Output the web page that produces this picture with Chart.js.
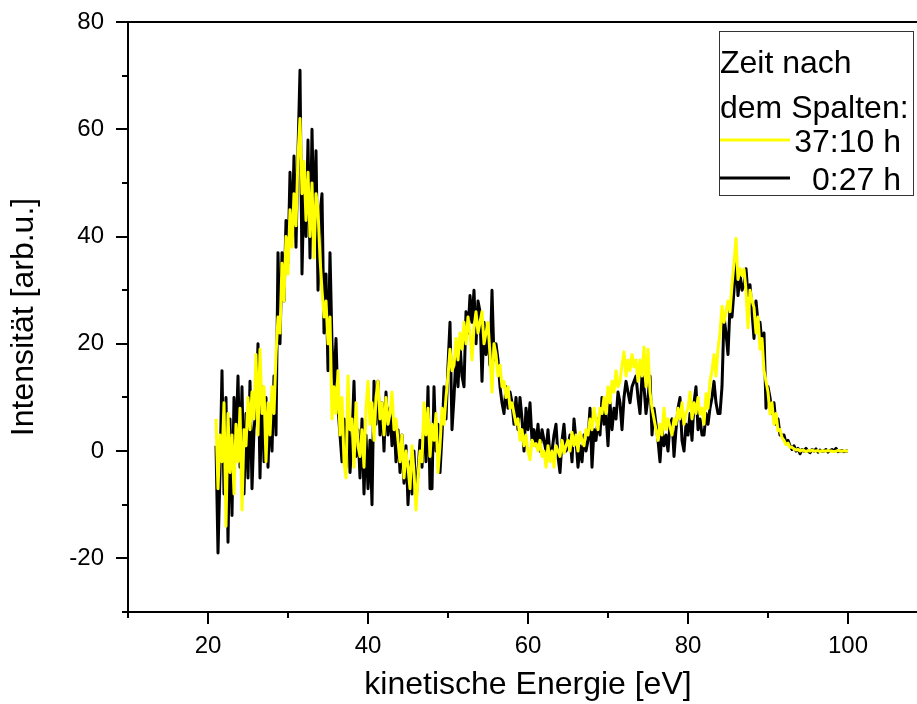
<!DOCTYPE html>
<html>
<head>
<meta charset="utf-8">
<script src="https://cdn.jsdelivr.net/npm/chart.js@4/dist/chart.umd.min.js"></script>
<style>
  html, body { margin: 0; padding: 0; overflow: hidden; background: #fff; }
  #wrap { width: 960px; height: 704px; }
</style>
</head>
<body>
<div id="wrap"><canvas id="spectrum" width="960" height="704"></canvas></div>
<script>
// energy grid of the scan: 21 eV to 100 eV in 0.25 eV steps
const E_START = 21;
const E_STEP = 0.25;

const seriesLabels = ['37:10 h', '0:27 h'];
const seriesColors = ['#ffff00', '#000000'];
const legendTitle = ['Zeit nach', 'dem Spalten:'];

// 37:10 h after cleaving, one row per eV (4 samples each)
const late = [
  6, -7, 3, -2,   9, -14, 7, -4,   3, -8, 5, -2,   8, -11, 4, 1,
  10, 4, 11, 6,   18, 3, 19, 7,   12, -2, 9, 3,   12, 7, 18, 25,
  22, 35, 28, 40,   33, 45, 38, 48,   42, 55, 62, 48,   54, 43, 52, 40,
  50, 36, 48, 45,   36, 30, 25, 28,   20, 25, 6, 12,   7, 15, 3, 10,
  -2, -5, 14, 4,   6, -3, 9, 1,   -1, 4, -3, 8,   13, 5, 9, 2,
  10, 13, 6, 9,   3, 10, 5, 7,   11, 4, 6, 2,   -2, 3, -5, 0,
  -3, -7, 1, -4,   -11, -5, 0, -2,   9, 3, 8, -1,   5, 2, 7, -4,
  1, 8, 5, 10,   14, 19, 15, 16,   21, 17, 22, 19,   24, 20, 25, 22,
  17, 23, 26, 22,   24, 26, 20, 22,   24, 18, 11, 20,   18, 14, 16, 12,
  13, 10, 12, 8,   9, 7, 5, 6,   2, 4, 1, 3,   0, -1.6, 2, 1,
  1.4, 0, 2, -1,   0, -3, 1, -2,   0, -3, 1, 0,   -1, 2, -0.4, 1,
  2, 0, 3.5, 1,   3, 0, 3.5, 2,   1, 4, 3, 6,   4, 8, 6, 4,
  8, 7, 10, 7,   12, 9, 13, 11,   15, 12, 13, 16,   18.5, 14, 17, 15,
  18, 15.7, 17, 13,   17, 14, 19.4, 12,   19, 11, 8, 6,   4, 2, 5, 3,
  8, 4, 6, 4.5,   3, 6, 5, 8,   6, 9, 5, 7,   8, 11, 6, 9,
  7, 10, 6.9, 8,   5, 10.7, 8, 13,   15, 18, 14, 19,   22, 27, 24, 26,
  28, 26, 31, 35,   39.7, 32, 34, 32.7,   33.9, 30, 23, 30,   28, 26.8, 22, 25,
  19, 21, 15, 13,   11, 6.9, 9, 5,   7, 3.8, 4, 2.5,   2, 1.2, 1.5, 0.7,
  0.7, 0.4, 0.2, 0.3,   0, 0.2, 0.1, -0.1,   0.1, 0, 0.2, 0,   0, 0.1, -0.1, 0.1,
  0, 0, 0.1, 0,   0, -0.1, 0, 0.1,   0, 0, 0, 0,
  0
];

// 0:27 h after cleaving
const early = [
  1, -19, -4, 15,   -8, 10, -17, 6,   -12, 10, 2, 14,   -3, 12, -8, 7,
  -5, 13, -7, 4,   8, 20, -5, 12,   -2, 10, -3, 8,   0, 14, 3, 37,
  20, 37, 28, 43,   35, 52, 40, 55,   38, 56, 71, 33,   50, 40, 58, 36,
  60, 42, 56, 30,   44, 48, 22, 33,   15, 37, 20, 12,   21, 8, 3, -2,
  6, -3, 10, -4,   2, 13, -1, 4,   -5, 6, -8, 3,   -7, 2, -10, 13,
  5, 13, 3, 9,   0, 11, 3, 8,   1, 6, -2, 4,   -4, 3, -6, 1,
  -10, -2, -8, 0,   -9, -4, 2, -3,   6, -2, 12, -7,   -7, 12, 0, 5,
  -4, 3, 12, 6,   16, 24, 4, 10,   18, 12, 20, 14,   12, 26, 22, 29,
  24, 30, 20, 28,   26, 13, 24, 18,   22, 16, 30, 17,   20, 17, 12, 9,
  7, 12, 8, 11,   9, 5, 10, 4,   10, 6, 0, 8,   4, 9, 2, 4,
  1, 5, 0, 4,   2, 0, 4, -1,   0, 3, 5, -1,   -4, 2, 5, 0,
  1, 3, -2, 6,   2, -3, 1, -2,   3, 0, 2, 8,   -3, 4, 2, 6,
  3, 10, 5, 7,   1, 9, 4, 8,   6, 11, 9, 4,   10, 13, 11, 9,
  12, 13, 14, 10,   7, 14, 12, 7,   10, 14, 3, 8,   5, 2, -2, 4,
  1, 3, 0, 5,   6, -1, 4, 8,   10, 2, 0, 5,   3, 7, 2, 9,
  12, 4, 6, 3,   3, 7, 5, 8,   10, 13, 9, 7,   7, 12, 25, 22,
  18, 27, 25, 30,   36, 29, 33, 30,   31, 34, 29, 31,   26, 21, 28, 24,
  24, 20, 22, 8,   12, 10, 7, 9,   5, 6, 3, 3,   3, 1.5, 2, 1,
  0.3, 1, 0, 0.5,   -0.5, 0.3, 0, 0.5,   0, -0.3, 0.3, 0,   0.4, -0.2, 0.2, 0,
  0, 0.3, -0.2, 0.1,   0.3, 0, 0.5, -0.1,   0, 0.1, -0.1, 0,
  0
];

const xRange = [10, 110];
const yRange = [-30, 80];
const tickStep = 10;
const labelStep = 20;

const toPoints = vals => vals.map((v, i) => ({ x: E_START + i * E_STEP, y: v }));

const FONT = "'Liberation Sans', Arial, sans-serif";

// axis lines, long/short tick marks, top frame line and the legend box
const framePlugin = {
  id: 'frame',
  afterDraw(chart) {
    const { ctx, chartArea: a, scales: { x, y } } = chart;
    ctx.save();
    ctx.strokeStyle = '#000';
    ctx.lineWidth = 2;
    ctx.lineCap = 'butt';
    ctx.beginPath();
    ctx.moveTo(a.left, a.top - 1);
    ctx.lineTo(a.left, a.bottom + 1);
    ctx.moveTo(a.left - 1, a.bottom);
    ctx.lineTo(a.right, a.bottom);
    ctx.moveTo(a.left - 1, a.top);
    ctx.lineTo(a.right, a.top);
    y.ticks.forEach(t => {
      const py = Math.round(y.getPixelForValue(t.value));
      const len = t.value % labelStep === 0 ? 12 : 6;
      ctx.moveTo(a.left - len, py);
      ctx.lineTo(a.left, py);
    });
    x.ticks.forEach(t => {
      const px = Math.round(x.getPixelForValue(t.value));
      const len = t.value % labelStep === 0 ? 12 : 6;
      ctx.moveTo(px, a.bottom);
      ctx.lineTo(px, a.bottom + len);
    });
    ctx.stroke();

    // legend
    const bx = 719.5, by = 31.5, bw = 194, bh = 164;
    ctx.fillStyle = '#fff';
    ctx.fillRect(bx, by, bw, bh);
    ctx.lineWidth = 1;
    ctx.strokeStyle = '#333';
    ctx.strokeRect(bx, by, bw, bh);
    ctx.fillStyle = '#000';
    ctx.font = '32px ' + FONT;
    ctx.textBaseline = 'alphabetic';
    ctx.textAlign = 'left';
    ctx.fillText(legendTitle[0], 720, 73);
    ctx.fillText(legendTitle[1], 720, 118);
    ctx.textAlign = 'right';
    const rows = [152, 190];
    chart.data.datasets.forEach((ds, i) => {
      ctx.strokeStyle = ds.borderColor;
      ctx.lineWidth = 3;
      ctx.beginPath();
      ctx.moveTo(720, rows[i] - 12);
      ctx.lineTo(790, rows[i] - 12);
      ctx.stroke();
      ctx.fillText(ds.label, 901, rows[i]);
    });
    ctx.restore();
  }
};

new Chart(document.getElementById('spectrum'), {
  type: 'line',
  data: {
    datasets: [
      { label: seriesLabels[0], data: toPoints(late), borderColor: seriesColors[0] },
      { label: seriesLabels[1], data: toPoints(early), borderColor: seriesColors[1] }
    ]
  },
  options: {
    responsive: false,
    animation: false,
    parsing: false,
    layout: { padding: { top: 22, right: 32, left: 0, bottom: 0 } },
    elements: {
      line: { borderWidth: 3, tension: 0, borderJoinStyle: 'round', fill: false },
      point: { radius: 0 }
    },
    plugins: {
      legend: { display: false },
      tooltip: { enabled: false }
    },
    scales: {
      x: {
        type: 'linear',
        min: xRange[0],
        max: xRange[1],
        grid: { display: false, drawTicks: false },
        border: { display: false },
        ticks: {
          stepSize: tickStep,
          autoSkip: false,
          maxRotation: 0,
          padding: 20,
          color: '#000',
          font: { family: FONT, size: 24 },
          callback: v => (v % labelStep === 0 && v > xRange[0] && v < xRange[1]) ? String(v) : ''
        },
        title: {
          display: true,
          text: 'kinetische Energie [eV]',
          color: '#000',
          font: { family: FONT, size: 32 },
          padding: { top: 0, bottom: 0 }
        },
        afterFit: s => { s.height = 92; s.paddingLeft = 0; s.paddingRight = 0; }
      },
      y: {
        min: yRange[0],
        max: yRange[1],
        grid: { display: false, drawTicks: false },
        border: { display: false },
        ticks: {
          stepSize: tickStep,
          autoSkip: false,
          padding: 24,
          color: '#000',
          font: { family: FONT, size: 24 },
          callback: v => v % labelStep === 0 ? String(v) : ''
        },
        title: {
          display: true,
          text: 'Intensität [arb.u.]',
          color: '#000',
          font: { family: FONT, size: 32 },
          padding: { top: 5, bottom: 0 }
        },
        afterFit: s => { s.width = 128; s.paddingTop = 0; s.paddingBottom = 0; }
      }
    }
  },
  plugins: [framePlugin]
});
</script>
</body>
</html>
